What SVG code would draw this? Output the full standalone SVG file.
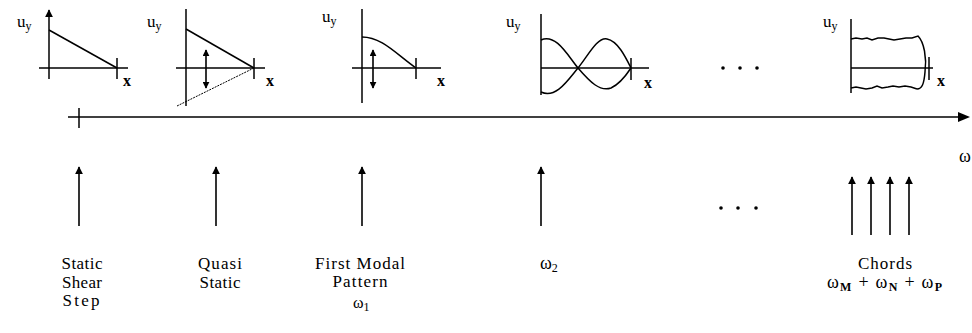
<svg xmlns="http://www.w3.org/2000/svg" width="972" height="333" viewBox="0 0 972 333">
<defs>
<marker id="ah" viewBox="0 0 10 10" refX="9" refY="5" markerWidth="8" markerHeight="8" markerUnits="userSpaceOnUse" orient="auto-start-reverse">
<path d="M0,0 L10,5 L0,10 z" fill="#000"/>
</marker>
<marker id="ahs" viewBox="0 0 10 10" refX="9" refY="5" markerWidth="7" markerHeight="7" markerUnits="userSpaceOnUse" orient="auto-start-reverse">
<path d="M0,0 L10,5 L0,10 z" fill="#000"/>
</marker>
</defs>
<style>
.ax{stroke:#000;stroke-width:1.5;fill:none}
.cv{stroke:#000;stroke-width:1.5;fill:none}
.dt{stroke:#000;stroke-width:1;fill:none;stroke-dasharray:2 1}
.arr{stroke:#000;stroke-width:1.6;fill:none;marker-end:url(#ah)}
.dbl{stroke:#000;stroke-width:1.6;fill:none;marker-end:url(#ahs);marker-start:url(#ahs)}
text{font-family:"Liberation Serif","Times New Roman",serif;fill:#000}
.lb{font-size:17px;text-anchor:middle}
.sm{font-size:17px}
.gx{font-size:16px;font-weight:bold}
.om{font-size:18px}
.om2{font-size:16px}
.sub{font-size:12px}
.subb{font-size:12px;font-weight:bold}
</style>
<rect width="972" height="333" fill="#fff"/>

<g id="graph-static">
<line class="ax" x1="49" y1="79" x2="49" y2="10" style="marker-end:url(#ah)"/>
<line class="ax" x1="39" y1="68" x2="128" y2="68"/>
<line class="ax" x1="117" y1="58" x2="117" y2="79"/>
<line class="cv" x1="49" y1="30" x2="117" y2="68"/>
<text class="sm" x="17" y="27">u<tspan class="sub" dy="3">y</tspan></text>
<text class="gx" x="123" y="86">x</text>
</g>

<g id="graph-quasi">
<line class="ax" x1="186" y1="9" x2="186" y2="106"/>
<line class="ax" x1="176" y1="68" x2="265" y2="68"/>
<line class="ax" x1="254" y1="58" x2="254" y2="79"/>
<line class="cv" x1="186" y1="29" x2="254" y2="68"/>
<line class="dt" x1="177" y1="106" x2="254" y2="68"/>
<line class="dbl" x1="206" y1="50" x2="206" y2="88"/>
<text class="sm" x="147" y="27">u<tspan class="sub" dy="3">y</tspan></text>
<text class="gx" x="266" y="86">x</text>
</g>

<g id="graph-first">
<line class="ax" x1="362" y1="9" x2="362" y2="103"/>
<line class="ax" x1="352" y1="68" x2="441" y2="68"/>
<line class="ax" x1="416" y1="58" x2="416" y2="79"/>
<path class="cv" d="M362,37 C382,37 396,54 416,68"/>
<line class="dbl" x1="373" y1="50" x2="373" y2="88"/>
<text class="sm" x="322" y="22">u<tspan class="sub" dy="3">y</tspan></text>
<text class="gx" x="437" y="86">x</text>
</g>

<g id="graph-second">
<line class="ax" x1="541" y1="14" x2="541" y2="95"/>
<line class="ax" x1="541" y1="68" x2="649" y2="68"/>
<line class="ax" x1="631" y1="58" x2="631" y2="80"/>
<path class="cv" d="M541,40 C556,33 568,56 578,68 C590,82 600,92 611,88 C620,84 627,74 631,68"/>
<path class="cv" d="M541,92 C556,99 568,80 578,68 C588,56 597,37 607,39 C618,41 626,58 631,68"/>
<text class="sm" x="506" y="27">u<tspan class="sub" dy="3">y</tspan></text>
<text class="gx" x="644" y="88">x</text>
</g>

<g id="dots-top">
<circle cx="723" cy="68" r="1.8"/>
<circle cx="740" cy="68" r="1.8"/>
<circle cx="757" cy="68" r="1.8"/>
</g>

<g id="graph-chords">
<line class="ax" x1="851" y1="19" x2="851" y2="93"/>
<line class="ax" x1="851" y1="68" x2="933" y2="68"/>
<line class="ax" x1="929" y1="57" x2="929" y2="80"/>
<path class="cv" d="M851,39 L856,38 L862,39 L867,38 L872,40 L878,38 L884,38 L889,39 L894,40 L900,39 L906,38 L912,38 L918,36 C924,42 927,58 925,72 C924,84 922,89 917,89"/>
<path class="cv" d="M851,88 L856,87 L861,88 L866,89 L872,88 L877,86 L882,88 L888,87 L893,86 L899,87 L905,86 L911,87 L917,89"/>
<text class="sm" x="823" y="27">u<tspan class="sub" dy="3">y</tspan></text>
<text class="gx" x="937" y="86">x</text>
</g>

<g id="omega-axis">
<line class="ax" x1="68" y1="117" x2="962" y2="117"/>
<path d="M958,112 L970,117 L958,122 z" fill="#000"/>
<line class="ax" x1="79" y1="108" x2="79" y2="128"/>
<text class="om" x="959" y="162">ω</text>
</g>

<g id="connectors">
<line class="arr" x1="79" y1="226" x2="79" y2="167"/>
<line class="arr" x1="216" y1="226" x2="216" y2="167"/>
<line class="arr" x1="362" y1="226" x2="362" y2="167"/>
<line class="arr" x1="541" y1="226" x2="541" y2="167"/>
<line class="arr" x1="852" y1="235" x2="852" y2="177"/>
<line class="arr" x1="871" y1="235" x2="871" y2="177"/>
<line class="arr" x1="890" y1="235" x2="890" y2="177"/>
<line class="arr" x1="909" y1="235" x2="909" y2="177"/>
</g>

<g id="dots-bottom">
<circle cx="721" cy="208" r="1.8"/>
<circle cx="738" cy="208" r="1.8"/>
<circle cx="756" cy="208" r="1.8"/>
</g>

<g id="label-static">
<text class="lb" x="82" y="269" textLength="41" lengthAdjust="spacing">Static</text>
<text class="lb" x="82" y="288" textLength="40" lengthAdjust="spacing">Shear</text>
<text class="lb" x="81" y="306" textLength="37" lengthAdjust="spacing">Step</text>
</g>
<g id="label-quasi">
<text class="lb" x="220" y="269" textLength="44" lengthAdjust="spacing">Quasi</text>
<text class="lb" x="220" y="288" textLength="41" lengthAdjust="spacing">Static</text>
</g>
<g id="label-first">
<text class="lb" x="360" y="269" textLength="90" lengthAdjust="spacing">First Modal</text>
<text class="lb" x="360" y="287" textLength="55" lengthAdjust="spacing">Pattern</text>
<text class="om2" x="353" y="308">ω<tspan class="sub" dy="3">1</tspan></text>
</g>
<g id="label-omega2">
<text class="om" x="540" y="269">ω<tspan class="sub" dy="3">2</tspan></text>
</g>
<g id="label-chords">
<text class="lb" x="885" y="269" textLength="54" lengthAdjust="spacing">Chords</text>
<text class="om" x="827" y="288" textLength="115" lengthAdjust="spacing">ω<tspan class="subb" dy="3">M</tspan><tspan dy="-3"> + ω</tspan><tspan class="subb" dy="3">N</tspan><tspan dy="-3"> + ω</tspan><tspan class="subb" dy="3">P</tspan></text>
</g>
</svg>
